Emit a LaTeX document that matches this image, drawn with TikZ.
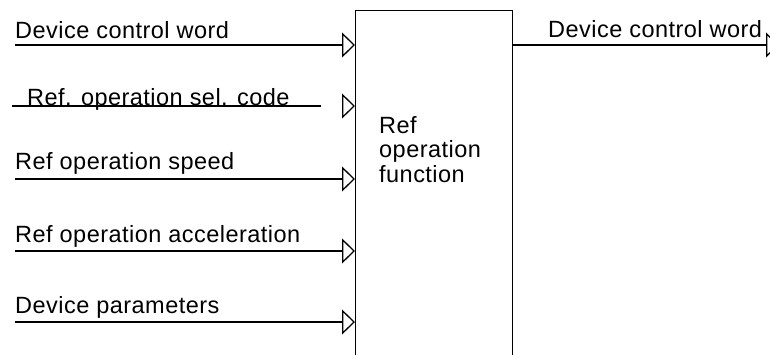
\documentclass[tikz,border=0pt]{standalone}
\usepackage{fontspec}
\setmainfont{Liberation Sans}[LetterSpace=2]
\usepackage{xcolor}
\usetikzlibrary{arrows.meta,calc}
\definecolor{linegray}{HTML}{000000}
\tikzset{
  line/.style={draw=linegray, -{Triangle[open,length=13pt,width=25pt,line width=1.3pt]}, line width=1.3pt},
  plainline/.style={draw=linegray, line width=1.3pt},
  fnbox/.style={
    draw=linegray,
    line width=1.3pt,
    anchor=north west,
    minimum width=157pt,
    minimum height=400pt,
    inner sep=0pt
  },
  lbl/.style={anchor=base west, inner sep=0pt, font=\fontsize{23.5}{24.5}\selectfont}
}
\begin{document}
\begin{tikzpicture}[x=1pt,y=-1pt]
  \path[use as bounding box] (0,0) rectangle (770,354);

  \node[fnbox] (refbox) at (355,10) {};
  \node[lbl, align=left] (fnlbl) at (379,182) {Ref\\operation\\function};

  \coordinate (inword) at (15,45);
  \coordinate (insel) at (12,106);
  \coordinate (inselend) at (321,106);
  \coordinate (inselgap) at (342,106);
  \coordinate (inspeed) at (15,179);
  \coordinate (inacc) at (15,251);
  \coordinate (inpar) at (15,322);
  \coordinate (outword) at (779,45);

  \node[lbl] (lword) at (15,38) {Device control word};
  \node[lbl] (lsel) at (27,105) {Ref. operation sel. code};
  \node[lbl] (lspeed) at (15,169) {Ref operation speed};
  \node[lbl] (lacc) at (15,242) {Ref operation acceleration};
  \node[lbl] (lpar) at (15,313) {Device parameters};
  \node[lbl] (loutword) at (548,37) {Device control word};

  \draw[line] (inword) -- (refbox.west |- inword);
  \draw[plainline] (insel) -- (inselend);
  \draw[line] (inselgap) -- (refbox.west |- inselgap);
  \draw[line] (inspeed) -- (refbox.west |- inspeed);
  \draw[line] (inacc) -- (refbox.west |- inacc);
  \draw[line] (inpar) -- (refbox.west |- inpar);
  \draw[line] (refbox.east |- outword) -- (outword);
\end{tikzpicture}
\end{document}
